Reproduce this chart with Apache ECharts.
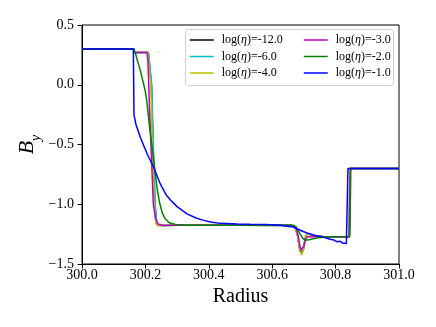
<!DOCTYPE html>
<html>
<head>
<meta charset="utf-8">
<script src="https://cdn.jsdelivr.net/npm/echarts@6/dist/echarts.min.js"></script>
<style>html,body{margin:0;padding:0;background:#fff}#c{width:436px;height:327px}</style>
</head>
<body>
<div id="c"></div>
<script>
// ---- data (Radius, B_y) ----
var etaLabels = ['-12.0', '-6.0', '-4.0', '-3.0', '-2.0', '-1.0'];
var etaColors = ['#000000', '#00bfbf', '#bfbf00', '#bf00bf', '#008000', '#0000ff'];

var rK = [300.0, 300.163, 300.166, 300.209, 300.212, 300.215, 300.219, 300.224, 300.230, 300.235, 300.240, 300.30, 300.50, 300.66, 300.672, 300.680, 300.687, 300.693, 300.699, 300.704, 300.709, 300.716, 300.73, 300.76, 300.843, 300.845, 301.0];
var bK = [0.3, 0.3, 0.27, 0.27, 0.285, 0.27, 0.0, -0.5, -1.0, -1.16, -1.178, -1.175, -1.175, -1.178, -1.19, -1.26, -1.38, -1.41, -1.37, -1.28, -1.25, -1.25, -1.262, -1.27, -1.275, -0.70, -0.70];

var rC = [300.0, 300.163, 300.166, 300.210, 300.213, 300.216, 300.220, 300.225, 300.231, 300.236, 300.241, 300.30, 300.50, 300.66, 300.672, 300.680, 300.687, 300.693, 300.699, 300.704, 300.709, 300.716, 300.73, 300.76, 300.843, 300.845, 301.0];
var bC = [0.3, 0.3, 0.27, 0.27, 0.285, 0.27, 0.0, -0.5, -1.0, -1.16, -1.178, -1.175, -1.175, -1.178, -1.19, -1.26, -1.39, -1.415, -1.37, -1.28, -1.25, -1.248, -1.262, -1.27, -1.275, -0.70, -0.70];

var rY = [300.0, 300.163, 300.166, 300.208, 300.211, 300.214, 300.217, 300.222, 300.228, 300.233, 300.238, 300.30, 300.50, 300.66, 300.672, 300.680, 300.687, 300.693, 300.699, 300.704, 300.709, 300.716, 300.73, 300.76, 300.843, 300.845, 301.0];
var bY = [0.3, 0.3, 0.27, 0.27, 0.285, 0.27, 0.0, -0.5, -1.0, -1.16, -1.178, -1.175, -1.175, -1.178, -1.19, -1.26, -1.39, -1.425, -1.38, -1.28, -1.255, -1.25, -1.262, -1.27, -1.275, -0.70, -0.70];

var rM = [300.0, 300.163, 300.166, 300.205, 300.208, 300.213, 300.219, 300.225, 300.232, 300.240, 300.255, 300.30, 300.66, 300.675, 300.683, 300.690, 300.695, 300.700, 300.706, 300.712, 300.76, 300.843, 300.846, 301.0];
var bM = [0.3, 0.3, 0.27, 0.27, 0.2, -0.2, -0.6, -1.0, -1.12, -1.165, -1.178, -1.175, -1.175, -1.19, -1.28, -1.385, -1.395, -1.35, -1.29, -1.27, -1.273, -1.275, -0.70, -0.70];

var rG = [300.0, 300.164, 300.166, 300.170, 300.175, 300.184, 300.194, 300.200, 300.205, 300.213, 300.221, 300.229, 300.237, 300.245, 300.253, 300.262, 300.275, 300.295, 300.33, 300.665, 300.675, 300.685, 300.695, 300.703, 300.712, 300.725, 300.745, 300.78, 300.845, 300.848, 301.0];
var bG = [0.3, 0.3, 0.28, 0.25, 0.2, 0.12, 0.01, -0.06, -0.15, -0.35, -0.52, -0.70, -0.87, -0.99, -1.07, -1.12, -1.155, -1.17, -1.175, -1.175, -1.19, -1.235, -1.28, -1.30, -1.30, -1.29, -1.28, -1.272, -1.27, -0.70, -0.70];

var rB = [300.0, 300.162, 300.164, 300.170, 300.184, 300.205, 300.226, 300.247, 300.265, 300.279, 300.300, 300.331, 300.36, 300.384, 300.41, 300.436, 300.49, 300.53, 300.58, 300.626, 300.647, 300.667, 300.69, 300.71, 300.731, 300.76, 300.783, 300.795, 300.804, 300.810, 300.815, 300.822, 300.828, 300.834, 300.837, 300.839, 301.0];
var bB = [0.3, 0.3, -0.25, -0.33, -0.44, -0.575, -0.69, -0.83, -0.92, -0.965, -1.02, -1.08, -1.115, -1.135, -1.15, -1.16, -1.165, -1.168, -1.17, -1.175, -1.185, -1.19, -1.22, -1.24, -1.257, -1.275, -1.293, -1.30, -1.313, -1.30, -1.31, -1.325, -1.31, -1.328, -1.32, -0.70, -0.70];

var radii = [rK, rC, rY, rM, rG, rB];
var fields = [bK, bC, bY, bM, bG, bB];

function pairs(xs, ys) { return xs.map(function (x, i) { return [x, ys[i]]; }); }

var serif = '"Liberation Serif", "DejaVu Serif", serif';
var chart = echarts.init(document.getElementById('c'), null, { renderer: 'canvas', width: 436, height: 327 });

var series = etaLabels.map(function (lab, i) {
  return {
    name: lab, type: 'line', data: pairs(radii[i], fields[i]),
    symbol: 'none', lineStyle: { width: 1.5, color: etaColors[i] }, itemStyle: { color: etaColors[i] },
    animation: false, z: 2
  };
});

var fs = 12;
function makeLegend(names, left) {
  return {
    orient: 'vertical', left: left, top: 34, z: 4,
    data: names, itemWidth: 24, itemHeight: 12, itemGap: 4.5,
    padding: 0,
    itemStyle: { opacity: 0 },
    lineStyle: { width: 1.5 },
    formatter: function (name) { return '{a|log(}{e|η}{a|)=' + name + '}'; },
    textStyle: {
      fontFamily: serif, fontSize: fs, color: '#000', padding: [0, 0, 0, 3],
      rich: {
        a: { fontFamily: serif, fontSize: fs, color: '#000' },
        e: { fontFamily: serif, fontSize: fs, fontStyle: 'italic', color: '#000' }
      }
    }
  };
}

chart.setOption({
  animation: false,
  grid: { left: 82, right: 37, top: 25, bottom: 63, show: true, borderColor: '#000', borderWidth: 1, backgroundColor: 'transparent' },
  graphic: [{
    type: 'rect', left: 185, top: 29, z: 3,
    shape: { width: 208, height: 56, r: 3 },
    style: { fill: 'rgba(255,255,255,0.8)', stroke: '#d0d0d0', lineWidth: 1 }
  }],
  legend: [makeLegend(etaLabels.slice(0, 3), 189), makeLegend(etaLabels.slice(3), 303)],
  xAxis: {
    type: 'value', min: 300, max: 301, interval: 0.2,
    name: 'Radius', nameLocation: 'middle', nameGap: 23,
    nameTextStyle: { fontFamily: serif, fontSize: 20, color: '#000' },
    axisLine: { show: true, onZero: false, lineStyle: { color: '#000', width: 1 } },
    axisTick: { show: true, length: 4.5, lineStyle: { color: '#000' } },
    axisLabel: { fontFamily: serif, fontSize: 14, color: '#000', margin: 4, formatter: function (v) { return v.toFixed(1); } },
    splitLine: { show: false }
  },
  yAxis: {
    type: 'value', min: -1.5, max: 0.5, interval: 0.5,
    name: '{b|B}{s|y}', nameLocation: 'middle', nameGap: 44, nameRotate: 90, nameMoveOverlap: false,
    nameTextStyle: {
      fontFamily: serif, color: '#000',
      rich: {
        b: { fontFamily: serif, fontSize: 22, fontStyle: 'italic', color: '#000', verticalAlign: 'bottom' },
        s: { fontFamily: serif, fontSize: 14, fontStyle: 'italic', color: '#000', verticalAlign: 'bottom', padding: [0, 0, -5, 0] }
      }
    },
    axisLine: { show: true, onZero: false, lineStyle: { color: '#000', width: 1 } },
    axisTick: { show: true, length: 4.5, lineStyle: { color: '#000' } },
    axisLabel: { fontFamily: serif, fontSize: 14, color: '#000', margin: 8, formatter: function (v) { return (v < 0 ? '\u2212' : '') + Math.abs(v).toFixed(1); } },
    splitLine: { show: false }
  },
  series: series
});
</script>
</body>
</html>
